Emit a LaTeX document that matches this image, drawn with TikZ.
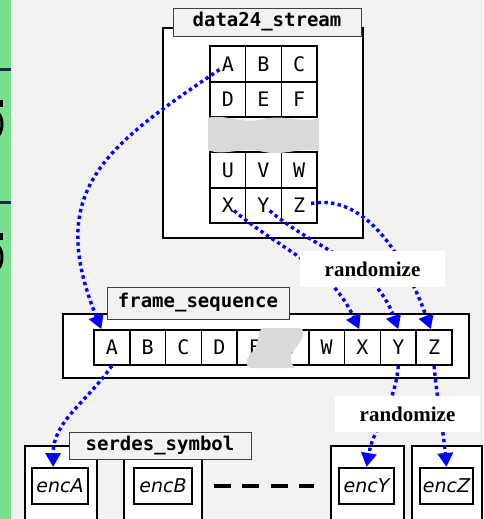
\documentclass[tikz,border=0pt]{standalone}
\usepackage{fontspec}
\usetikzlibrary{arrows.meta}
\newfontfamily\monofont{DejaVu Sans Mono}
\newfontfamily\encfont{DejaVu Sans}
\newfontfamily\randfont{Liberation Serif}
\definecolor{paper}{RGB}{242,242,242}
\definecolor{tabgreen}{RGB}{119,225,139}
\definecolor{tabnavy}{RGB}{40,36,90}
\definecolor{gapgrey}{RGB}{217,217,217}

\begin{document}
\begin{tikzpicture}[x=1pt,y=-1pt,
  box/.style={draw,line width=2pt,fill=white,inner sep=0pt},
  cell/.style={draw,line width=1.6pt,fill=white,minimum width=35.7pt,minimum height=35.5pt,inner sep=0pt,font=\monofont\fontsize{20}{20}\selectfont},
  title/.style={draw=black!75,line width=0.8pt,fill=paper,inner sep=0pt,font=\monofont\bfseries\fontsize{19}{19}\selectfont},
  enc/.style={draw,line width=2pt,fill=white,inner sep=0pt,minimum height=36pt,font=\encfont\itshape\fontsize{19}{19}\selectfont},
  flow/.style={blue,line width=3.4pt,dash pattern=on 3.4pt off 3.3pt,-{Triangle[length=14pt,width=15pt]}},
  note/.style={fill=white,minimum width=145pt,minimum height=36pt,inner sep=0pt,font=\randfont\bfseries\fontsize{21}{21}\selectfont}]
    \clip (0,0) rectangle (483,519);
    \fill[paper] (0,0) rectangle (483,519);
    \fill[tabgreen] (0,0) rectangle (11,519);
    \fill[tabnavy] (0,68) rectangle (11,71);
    \fill[tabnavy] (0,201) rectangle (11,204);
    \fill (0,100) rectangle (3,107);
    \draw[line width=3pt] (-1,114) .. controls (3,119) and (3,129) .. (-1,135);
    \fill (0,233) rectangle (3,240);
    \draw[line width=3pt] (-1,247) .. controls (3,252) and (3,262) .. (-1,268);

    % data24 stream
    \node[box,minimum width=200pt,minimum height=210pt] (stream) at (263,133) {};
    \node[title,minimum width=188pt,minimum height=28pt] (streamtitle) at (267,22) {data24\_stream};
    \node[cell] (dA) at (227.8,64) {A};
    \node[cell] (dB) at (263.5,64) {B};
    \node[cell] (dC) at (299.2,64) {C};
    \node[cell] (dD) at (227.8,99.5) {D};
    \node[cell] (dE) at (263.5,99.5) {E};
    \node[cell] (dF) at (299.2,99.5) {F};
    \node[cell] (dU) at (227.8,170) {U};
    \node[cell] (dV) at (263.5,170) {V};
    \node[cell] (dW) at (299.2,170) {W};
    \node[cell] (dX) at (227.8,205.5) {X};
    \node[cell] (dY) at (263.5,205.5) {Y};
    \node[cell] (dZ) at (299.2,205.5) {Z};
    \fill[gapgrey] (208,118) .. controls (225,113) and (240,125) .. (264,119)
        .. controls (285,114) and (300,124) .. (319,118) -- (319,151)
        .. controls (300,147) and (285,156) .. (264,152)
        .. controls (240,146) and (225,157) .. (208,150) -- cycle;

    % frame sequence
    \node[box,minimum width=406pt,minimum height=64pt] (frame) at (266,346) {};
    \node[title,minimum width=182pt,minimum height=32pt] (frametitle) at (198,303) {frame\_sequence};
    \node[cell,minimum height=35pt] (fA) at (111.9,347.5) {A};
    \node[cell,minimum height=35pt] (fB) at (147.7,347.5) {B};
    \node[cell,minimum height=35pt] (fC) at (183.5,347.5) {C};
    \node[cell,minimum height=35pt] (fD) at (219.3,347.5) {D};
    \node[cell,minimum height=35pt] (fE) at (255.1,347.5) {E};
    \node[cell,minimum height=35pt] (fV) at (290.9,347.5) {V};
    \node[cell,minimum height=35pt] (fW) at (326.7,347.5) {W};
    \node[cell,minimum height=35pt] (fX) at (362.5,347.5) {X};
    \node[cell,minimum height=35pt] (fY) at (398.3,347.5) {Y};
    \node[cell,minimum height=35pt] (fZ) at (434.1,347.5) {Z};
    \fill[gapgrey] (263,328) -- (300,328) .. controls (308,331) and (300,343) .. (294,350)
        .. controls (288,357) and (291,364) .. (295,368) -- (250,368)
        .. controls (243,364) and (248,356) .. (254,350)
        .. controls (260,343) and (256,332) .. (263,328) -- cycle;

    % serdes symbols
    \node[box,minimum width=72pt,minimum height=84pt] (symA) at (61,488) {};
    \node[box,minimum width=78pt,minimum height=84pt] (symB) at (163,488) {};
    \node[box,minimum width=73pt,minimum height=84pt] (symY) at (367.5,488) {};
    \node[box,minimum width=70pt,minimum height=84pt] (symZ) at (447,488) {};
    \node[title,minimum width=182pt,minimum height=27pt] (symtitle) at (160,445.5) {serdes\_symbol};
    \node[enc,minimum width=56pt] (encA) at (60,486) {encA};
    \node[enc,minimum width=58pt] (encB) at (163,486) {encB};
    \node[enc,minimum width=55pt] (encY) at (366.5,486) {encY};
    \node[enc,minimum width=53pt] (encZ) at (446.5,486) {encZ};
    \draw[line width=4pt,dash pattern=on 17pt off 11.3pt,shorten <=21pt,shorten >=24pt] (encB.east) -- (encY.west);

    \draw[flow,shorten <=10pt] (dA.center) to[out=214,in=112,looseness=1.3] (fA.120);
    \draw[flow] (fA.south) to[out=235,in=90] (encA.110);
    \draw[flow,shorten <=8pt] (dX.center) to[out=-40,in=115] (fX.100);
    \draw[flow,shorten <=8pt] (dY.center) to[out=-40,in=110] (fY.north);
    \draw[flow,shorten <=12pt] (dZ.center) to[out=10,in=110] (fZ.100);
    \draw[flow] (fY.south) to[out=-95,in=80] (encY.north);
    \draw[flow] (fZ.south) to[out=-85,in=95] (encZ.north);

    \node[note] (shuffle1) at (372.5,269) {randomize};
    \node[note] (shuffle2) at (407.5,414) {randomize};
\end{tikzpicture}
\end{document}
